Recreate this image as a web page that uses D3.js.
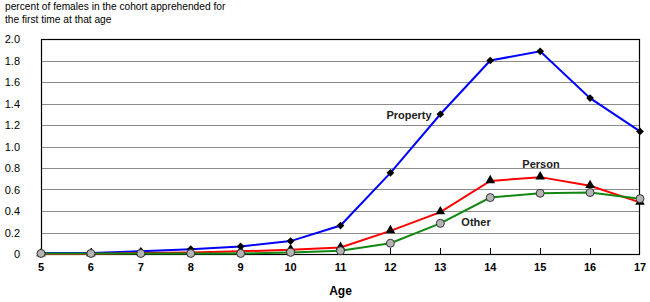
<!DOCTYPE html>
<html><head><meta charset="utf-8">
<script src="https://cdn.jsdelivr.net/npm/d3@7"></script>
<style>
body{margin:0;background:#fff;}
text{font-family:"Liberation Sans Narrow","Arial Narrow","Liberation Sans",Arial,sans-serif;}
</style></head>
<body><svg id="c" width="650" height="302"></svg>
<script>
const ages = [5,6,7,8,9,10,11,12,13,14,15,16,17];
const property = [0.01,0.01,0.025,0.045,0.07,0.12,0.265,0.755,1.30,1.80,1.885,1.45,1.14];
const person = [0,0,0.01,0.015,0.025,0.04,0.06,0.215,0.39,0.68,0.715,0.635,0.48];
const other = [0.005,0.005,0.005,0.005,0.005,0.015,0.03,0.1,0.285,0.525,0.565,0.572,0.515];
const yTicks = [0,0.2,0.4,0.6,0.8,1.0,1.2,1.4,1.6,1.8,2.0];
const yTickLabels = ["0","0.2","0.4","0.6","0.8","1.0","1.2","1.4","1.6","1.8","2.0"];
const titleLines = ["percent of females in the cohort apprehended for","the first time at that age"];
const xTitle = "Age";
const seriesNames = ["Property","Person","Other"];

const svg = d3.select("#c");
const L=41,R=640,T=39,B=254;
const x = d3.scaleLinear().domain([5,17]).range([L,R]);
const y = d3.scaleLinear().domain([0,2]).range([B,T]);

// title
svg.selectAll("text.title").data(titleLines).join("text")
  .attr("x",5).attr("y",(d,i)=>10+i*12.5).attr("font-size",10.2).attr("fill","#000")
  .style("font-family","'Liberation Sans',Arial,sans-serif").text(d=>d);

// gridlines
svg.append("g").selectAll("line").data(yTicks.slice(1)).join("line")
  .attr("x1",L).attr("x2",R).attr("y1",d=>Math.round(y(d))+0.5).attr("y2",d=>Math.round(y(d))+0.5)
  .attr("stroke","#8c8c8c").attr("stroke-width",1);

// y labels
svg.append("g").selectAll("text").data(yTicks).join("text")
  .attr("x",20).attr("y",d=>y(d)+4).attr("text-anchor","end")
  .attr("font-size",11).style("font-family","'Liberation Sans',Arial,sans-serif")
  .text((d,i)=>yTickLabels[i]);

// x ticks
svg.append("g").selectAll("line").data(ages.slice(1,-1)).join("line")
  .attr("x1",d=>Math.round(x(d))+0.5).attr("x2",d=>Math.round(x(d))+0.5)
  .attr("y1",B).attr("y2",B-6).attr("stroke","#000");
svg.append("g").selectAll("text").data(ages).join("text")
  .attr("x",d=>x(d)).attr("y",B+17).attr("text-anchor","middle")
  .attr("font-size",11).attr("font-weight","bold").text(d=>d);

// border
svg.append("rect").attr("x",L+0.5).attr("y",T+0.5).attr("width",R-L-1).attr("height",B-T)
  .attr("fill","none").attr("stroke","#000").attr("stroke-width",1.2);

// x title
svg.append("text").attr("x",(L+R)/2).attr("y",295).attr("text-anchor","middle")
  .attr("font-size",12).attr("font-weight","bold").text(xTitle);

const line = d3.line().x((d,i)=>x(ages[i])).y(d=>y(d));
const series = [
  {vals:property,color:"#0000ff",marker:"diamond"},
  {vals:person,color:"#ff0000",marker:"triangle"},
  {vals:other,color:"#118811",marker:"circle"}
];
series.forEach(s=>{
  svg.append("path").datum(s.vals).attr("d",line).attr("fill","none")
    .attr("stroke",s.color).attr("stroke-width",2);
});
series.forEach(s=>{
  const g = svg.append("g");
  s.vals.forEach((v,i)=>{
    const cx=x(ages[i]), cy=y(v);
    if(s.marker==="diamond"){
      g.append("path").attr("d",d3.symbol(d3.symbolSquare,30)()).attr("transform",`translate(${cx},${cy}) rotate(45)`).attr("fill","#000");
    } else if(s.marker==="triangle"){
      g.append("path").attr("d",d3.symbol(d3.symbolTriangle,40)()).attr("transform",`translate(${cx},${cy-0.5})`).attr("fill","#000");
    } else {
      g.append("circle").attr("cx",cx).attr("cy",cy).attr("r",4).attr("fill","#b4b4b4").attr("stroke","#333").attr("stroke-width",1);
    }
  });
});

// series labels
const labelPos = [[409,119],[541,168],[476,226]];
svg.append("g").selectAll("text").data(seriesNames).join("text")
  .attr("x",(d,i)=>labelPos[i][0]).attr("y",(d,i)=>labelPos[i][1]).attr("text-anchor","middle")
  .attr("font-size",11).attr("font-weight","bold").attr("fill","#222").text(d=>d);
</script></body></html>
